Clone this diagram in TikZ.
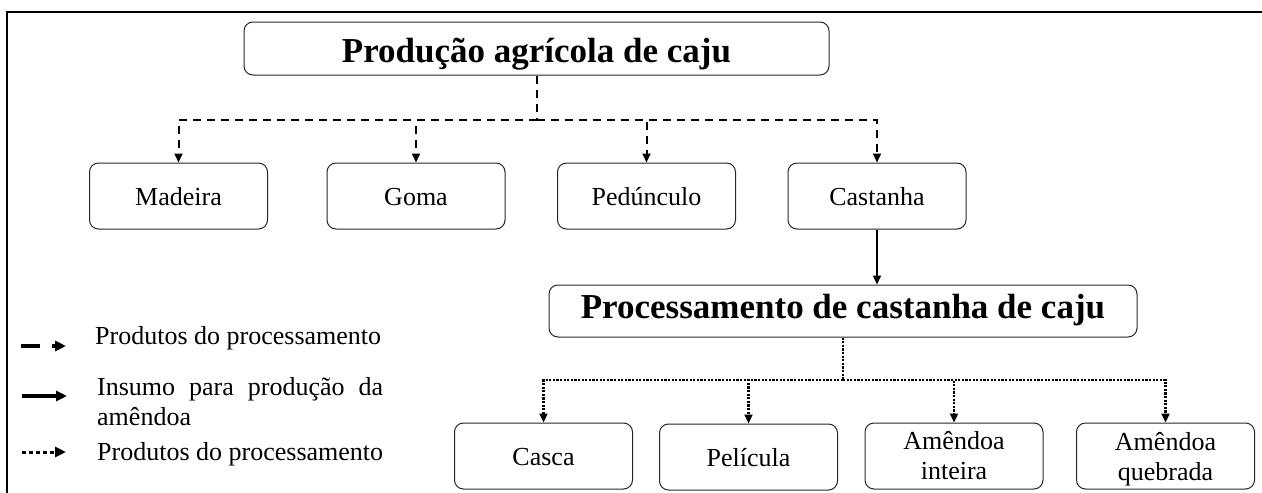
\documentclass[tikz,border=0pt]{standalone}
\usepackage{fontspec}
\setmainfont{Liberation Serif}
\usetikzlibrary{arrows.meta}
\begin{document}
\begin{tikzpicture}[x=1pt,y=-1pt,
  box/.style={draw=black!85, line width=1pt, rounded corners=9pt, minimum width=178pt, minimum height=66pt, inner sep=0pt, align=center, font=\fontsize{26}{30}\selectfont},
  one/.style={text height=18pt, text depth=0pt},
  bigbox/.style={box, minimum height=53pt, font=\fontsize{35}{40}\selectfont\bfseries},
  tip/.style={-{Triangle[length=9pt,width=8pt]}},
  dashconn/.style={line width=2pt, dash pattern=on 8pt off 6pt},
  dotconn/.style={line width=2.2pt, dash pattern=on 2.2pt off 1.4pt},
  legtxt/.style={anchor=base west, inner sep=0pt, font=\fontsize{26}{30}\selectfont}]
\useasboundingbox (0,0) rectangle (1262,493);
% frame
\draw[line width=1.5pt] (7,493) -- (7,12) -- (1262,12);

% nodes
\node[bigbox, minimum width=585pt, text height=28pt, text depth=0pt] (title) at (536.5,48.5) {Produção agrícola de caju};
\node[box,one] (madeira) at (178.5,196) {Madeira};
\node[box,one] (goma) at (416,196) {Goma};
\node[box,one] (ped) at (646.5,196) {Pedúnculo};
\node[box,one] (cast) at (877,196) {Castanha};
\node[bigbox, minimum width=588pt, minimum height=52pt, text height=22pt, text depth=8pt] (proc) at (843,311) {Processamento de castanha de caju};
\node[box,one] (casca) at (543.5,456) {Casca};
\node[box,one] (peli) at (748.5,457) {Película};
\node[box] (inteira) at (954,456) {Amêndoa\\inteira};
\node[box] (queb) at (1165.5,456) {Amêndoa\\\smash{quebrada}};

% top dashed connectors
\coordinate (j1) at (536.5,120);
\draw[dashconn] (title.south) -- (j1);
\draw[dashconn,tip] (j1) -| (madeira.north);
\draw[dashconn,tip] (j1) -| (goma.north);
\draw[dashconn,tip] (j1) -| (ped.north);
\draw[dashconn,tip] (j1) -| (cast.north);

% solid
\draw[line width=1.8pt,tip] (cast.south) -- (proc.north -| cast.south);

% dotted connectors
\coordinate (j2) at (843,380);
\draw[dotconn] (proc.south) -- (j2);
\draw[dotconn,tip] (j2) -| (casca.north);
\draw[dotconn,tip] (j2) -| (peli.north);
\draw[dotconn,tip] (j2) -| (inteira.north);
\draw[dotconn,tip] (j2) -| (queb.north);

% legend
\coordinate (l1a) at (21,346); \coordinate (l1b) at (66,346);
\coordinate (l2a) at (22,396); \coordinate (l2b) at (67,396);
\coordinate (l3a) at (22,452); \coordinate (l3b) at (66,452);
\draw[line width=3.5pt, dash pattern=on 19pt off 12pt, -{Triangle[length=11pt,width=10pt]}] (l1a) -- (l1b);
\draw[line width=3.5pt, -{Triangle[length=11pt,width=10pt]}] (l2a) -- (l2b);
\draw[line width=3pt, dash pattern=on 4pt off 3pt, -{Triangle[length=11pt,width=10pt]}] (l3a) -- (l3b);
\node[legtxt] (t1) at (95,344) {Produtos do processamento};
\node[legtxt] (t2) at (97,395) {\makebox[286pt][s]{Insumo para produção da}};
\node[legtxt] (t3) at (97,425) {amêndoa};
\node[legtxt] (t4) at (97,460) {Produtos do processamento};
\end{tikzpicture}
\end{document}
